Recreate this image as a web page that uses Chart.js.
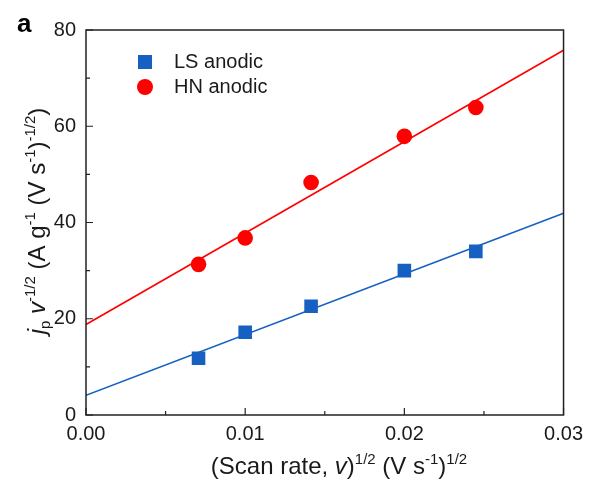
<!DOCTYPE html>
<html>
<head>
<meta charset="utf-8">
<script src="https://cdn.jsdelivr.net/npm/chart.js@4.4.1/dist/chart.umd.min.js"></script>
<style>
  html, body { margin: 0; padding: 0; background: #fff; }
  #wrap { width: 590px; height: 481px; }
</style>
</head>
<body>
<div id="wrap"><canvas id="chart" width="590" height="481"></canvas></div>
<script>
// Data
const scanRateSqrt = [0.00707, 0.01, 0.01414, 0.02, 0.02449];
const lsAnodic = [11.8, 17.2, 22.6, 30.0, 34.0];
const hnAnodic = [31.3, 36.8, 48.3, 57.9, 63.9];

// Linear fit lines (value at x = 0 and x = 0.03)
const fitX = [0, 0.03];
const lsFit = [4.1, 41.9];
const hnFit = [18.8, 75.8];

const xTicks = [0, 0.01, 0.02, 0.03];
const yTicks = [0, 20, 40, 60, 80];

const BLUE = "#1560c0";
const RED = "#ff0000";
const FONT = "'Liberation Sans', Arial, sans-serif";

function toPoints(xs, ys) {
  return xs.map((x, i) => ({ x: x, y: ys[i] }));
}

// draw a run of text pieces (normal / italic / sup / sub), centered at 0
function drawRich(ctx, parts, size) {
  const small = Math.round(size * 0.64);
  const fontFor = p => {
    const s = (p.sup || p.sub) ? small : size;
    return (p.italic ? "italic " : "") + s + "px " + FONT;
  };
  let total = 0;
  parts.forEach(p => { ctx.font = fontFor(p); total += ctx.measureText(p.t).width; });
  let x = -total / 2;
  ctx.textBaseline = "alphabetic";
  ctx.textAlign = "left";
  parts.forEach(p => {
    ctx.font = fontFor(p);
    let dy = 0;
    if (p.sup) dy = -size * 0.42;
    if (p.sub) dy = size * 0.2;
    ctx.fillText(p.t, x, dy);
    x += ctx.measureText(p.t).width;
  });
}

const decorations = {
  id: "decorations",
  afterDraw(chart) {
    const ctx = chart.ctx;
    const a = chart.chartArea;
    const xs = chart.scales.x;
    const ys = chart.scales.y;
    ctx.save();

    // frame
    ctx.strokeStyle = "#222";
    ctx.lineWidth = 1.5;
    ctx.strokeRect(a.left, a.top, a.right - a.left, a.bottom - a.top);

    // inward ticks, major and minor
    ctx.lineWidth = 1.2;
    ctx.beginPath();
    for (let v = 0; v <= 0.03 + 1e-9; v += 0.005) {
      const px = xs.getPixelForValue(v);
      const major = Math.abs(v / 0.01 - Math.round(v / 0.01)) < 1e-6;
      const len = major ? 7 : 4;
      ctx.moveTo(px, a.bottom); ctx.lineTo(px, a.bottom - len);
    }
    for (let v = 0; v <= 80; v += 10) {
      const py = ys.getPixelForValue(v);
      const len = v % 20 === 0 ? 7 : 4;
      ctx.moveTo(a.left, py); ctx.lineTo(a.left + len, py);
    }
    ctx.stroke();

    // legend
    const legend = [
      { ds: chart.data.datasets[0], y: 62 },
      { ds: chart.data.datasets[1], y: 87 }
    ];
    legend.forEach(item => {
      const ds = item.ds;
      ctx.fillStyle = ds.backgroundColor;
      if (ds.pointStyle === "rect") {
        ctx.fillRect(145 - 7, item.y - 7, 14, 14);
      } else {
        ctx.beginPath();
        ctx.arc(145, item.y, 8, 0, Math.PI * 2);
        ctx.fill();
      }
      ctx.fillStyle = "#1a1a1a";
      ctx.font = "20px " + FONT;
      ctx.textAlign = "left";
      ctx.textBaseline = "middle";
      ctx.fillText(ds.label, 174, item.y);
    });

    // panel label
    ctx.font = "bold 26px " + FONT;
    ctx.fillStyle = "#000";
    ctx.textAlign = "left";
    ctx.textBaseline = "alphabetic";
    ctx.fillText("a", 17, 32);

    // x axis title
    ctx.fillStyle = "#1a1a1a";
    ctx.save();
    ctx.translate(339, 474);
    drawRich(ctx, [
      { t: "(Scan rate, " },
      { t: "v", italic: true },
      { t: ")" },
      { t: "1/2", sup: true },
      { t: " (V s" },
      { t: "-1", sup: true },
      { t: ")" },
      { t: "1/2", sup: true }
    ], 24);
    ctx.restore();

    // y axis title
    ctx.save();
    ctx.translate(45, 221);
    ctx.rotate(-Math.PI / 2);
    drawRich(ctx, [
      { t: "j", italic: true },
      { t: "p", sub: true },
      { t: " v", italic: true },
      { t: "-1/2", sup: true },
      { t: " (A g" },
      { t: "-1", sup: true },
      { t: " (V s" },
      { t: "-1", sup: true },
      { t: ")" },
      { t: "-1/2", sup: true },
      { t: ")" }
    ], 24);
    ctx.restore();

    ctx.restore();
  }
};

new Chart(document.getElementById("chart").getContext("2d"), {
  type: "scatter",
  data: {
    datasets: [
      {
        label: "LS anodic",
        data: toPoints(scanRateSqrt, lsAnodic),
        pointStyle: "rect",
        pointRadius: 9.6,
        backgroundColor: BLUE,
        borderWidth: 0,
        order: 0
      },
      {
        label: "HN anodic",
        data: toPoints(scanRateSqrt, hnAnodic),
        pointStyle: "circle",
        pointRadius: 7.8,
        backgroundColor: RED,
        borderWidth: 0,
        order: 0
      },
      {
        label: "LS fit",
        data: toPoints(fitX, lsFit),
        showLine: true,
        pointRadius: 0,
        borderColor: BLUE,
        borderWidth: 1.6,
        order: 1
      },
      {
        label: "HN fit",
        data: toPoints(fitX, hnFit),
        showLine: true,
        pointRadius: 0,
        borderColor: RED,
        borderWidth: 1.6,
        order: 1
      }
    ]
  },
  options: {
    responsive: false,
    animation: false,
    layout: { padding: { top: 30, right: 26, left: 0, bottom: 0 } },
    plugins: {
      legend: { display: false },
      tooltip: { enabled: false }
    },
    scales: {
      x: {
        type: "linear",
        min: 0,
        max: 0.03,
        afterBuildTicks: s => { s.ticks = xTicks.map(v => ({ value: v })); },
        afterFit: s => { s.height = 66; },
        grid: { display: false, drawTicks: false },
        border: { display: false },
        ticks: {
          padding: 7,
          color: "#1a1a1a",
          font: { family: FONT, size: 20 },
          callback: v => v.toFixed(2),
          maxRotation: 0
        }
      },
      y: {
        type: "linear",
        min: 0,
        max: 80,
        afterBuildTicks: s => { s.ticks = yTicks.map(v => ({ value: v })); },
        afterFit: s => { s.width = 86; },
        grid: { display: false, drawTicks: false },
        border: { display: false },
        ticks: {
          padding: 10,
          color: "#1a1a1a",
          font: { family: FONT, size: 20 }
        }
      }
    }
  },
  plugins: [decorations]
});
</script>
</body>
</html>
